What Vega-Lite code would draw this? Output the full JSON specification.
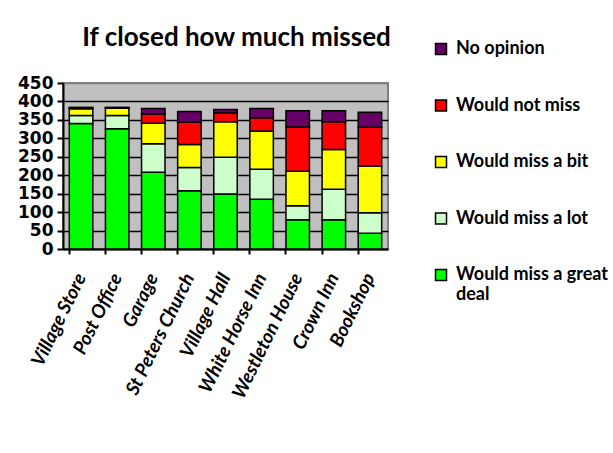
{
  "$schema": "https://vega.github.io/schema/vega-lite/v6.json",
  "width": 325,
  "height": 166,
  "autosize": {"type": "none"},
  "padding": {"left": 63, "top": 83, "right": 225, "bottom": 204},
  "background": "white",
  "title": {
    "text": "If closed how much missed",
    "font": "Lato",
    "fontSize": 26,
    "fontWeight": "bold",
    "color": "black",
    "anchor": "middle",
    "frame": "group",
    "dx": 11,
    "offset": -11
  },
  "data": {
    "values": [
      {"place": "Village Store", "series": "Would miss a great deal", "value": 340},
      {"place": "Village Store", "series": "Would miss a lot", "value": 22},
      {"place": "Village Store", "series": "Would miss a bit", "value": 18},
      {"place": "Village Store", "series": "Would not miss", "value": 2},
      {"place": "Village Store", "series": "No opinion", "value": 2},
      {"place": "Post Office", "series": "Would miss a great deal", "value": 326},
      {"place": "Post Office", "series": "Would miss a lot", "value": 36},
      {"place": "Post Office", "series": "Would miss a bit", "value": 20},
      {"place": "Post Office", "series": "Would not miss", "value": 1},
      {"place": "Post Office", "series": "No opinion", "value": 1},
      {"place": "Garage", "series": "Would miss a great deal", "value": 208},
      {"place": "Garage", "series": "Would miss a lot", "value": 77},
      {"place": "Garage", "series": "Would miss a bit", "value": 56},
      {"place": "Garage", "series": "Would not miss", "value": 25},
      {"place": "Garage", "series": "No opinion", "value": 15},
      {"place": "St Peters Church", "series": "Would miss a great deal", "value": 158},
      {"place": "St Peters Church", "series": "Would miss a lot", "value": 63},
      {"place": "St Peters Church", "series": "Would miss a bit", "value": 62},
      {"place": "St Peters Church", "series": "Would not miss", "value": 61},
      {"place": "St Peters Church", "series": "No opinion", "value": 29},
      {"place": "Village Hall", "series": "Would miss a great deal", "value": 149},
      {"place": "Village Hall", "series": "Would miss a lot", "value": 100},
      {"place": "Village Hall", "series": "Would miss a bit", "value": 96},
      {"place": "Village Hall", "series": "Would not miss", "value": 24},
      {"place": "Village Hall", "series": "No opinion", "value": 9},
      {"place": "White Horse Inn", "series": "Would miss a great deal", "value": 135},
      {"place": "White Horse Inn", "series": "Would miss a lot", "value": 81},
      {"place": "White Horse Inn", "series": "Would miss a bit", "value": 104},
      {"place": "White Horse Inn", "series": "Would not miss", "value": 36},
      {"place": "White Horse Inn", "series": "No opinion", "value": 25},
      {"place": "Westleton House", "series": "Would miss a great deal", "value": 79},
      {"place": "Westleton House", "series": "Would miss a lot", "value": 38},
      {"place": "Westleton House", "series": "Would miss a bit", "value": 94},
      {"place": "Westleton House", "series": "Would not miss", "value": 120},
      {"place": "Westleton House", "series": "No opinion", "value": 44},
      {"place": "Crown Inn", "series": "Would miss a great deal", "value": 79},
      {"place": "Crown Inn", "series": "Would miss a lot", "value": 83},
      {"place": "Crown Inn", "series": "Would miss a bit", "value": 108},
      {"place": "Crown Inn", "series": "Would not miss", "value": 75},
      {"place": "Crown Inn", "series": "No opinion", "value": 30},
      {"place": "Bookshop", "series": "Would miss a great deal", "value": 43},
      {"place": "Bookshop", "series": "Would miss a lot", "value": 55},
      {"place": "Bookshop", "series": "Would miss a bit", "value": 127},
      {"place": "Bookshop", "series": "Would not miss", "value": 105},
      {"place": "Bookshop", "series": "No opinion", "value": 41}
    ]
  },
  "transform": [
    {"calculate": "indexof(['Would miss a great deal','Would miss a lot','Would miss a bit','Would not miss','No opinion'], datum.series)", "as": "stackorder"}
  ],
  "mark": {"type": "bar", "stroke": "black", "strokeWidth": 1.5},
  "encoding": {
    "x": {
      "field": "place",
      "type": "nominal",
      "sort": null,
      "scale": {"paddingInner": 0.35, "paddingOuter": 0.175},
      "axis": {
        "title": null,
        "bandPosition": 0,
        "labelAngle": -64,
        "labelAlign": "right",
        "labelBaseline": "middle",
        "labelFont": "Lato",
        "labelFontSize": 19,
        "labelFontWeight": "bold",
        "labelFontStyle": "italic",
        "labelColor": "black",
        "labelPadding": 20,
        "tickColor": "black",
        "tickSize": 5,
        "tickWidth": 2,
        "domainColor": "black",
        "domainWidth": 2,
        "grid": false
      }
    },
    "y": {
      "field": "value",
      "type": "quantitative",
      "stack": "zero",
      "scale": {"domain": [0, 450], "nice": false},
      "axis": {
        "title": null,
        "values": [0, 50, 100, 150, 200, 250, 300, 350, 400, 450],
        "labelFont": "DejaVu Sans",
        "labelFontSize": 17,
        "labelFontWeight": "bold",
        "labelColor": "black",
        "labelPadding": 4,
        "tickColor": "black",
        "tickSize": 6,
        "tickWidth": 2,
        "domainColor": "black",
        "domainWidth": 2,
        "grid": true,
        "gridColor": {"condition": {"test": "datum.value == 450", "value": "#808080"}, "value": "black"},
        "gridWidth": 1.5,
        "gridOpacity": 1
      }
    },
    "color": {
      "field": "series",
      "type": "nominal",
      "scale": {
        "domain": ["No opinion", "Would not miss", "Would miss a bit", "Would miss a lot", "Would miss a great deal"],
        "range": ["#660066", "#FF0000", "#FFFF00", "#CCFFCC", "#00FF00"]
      },
      "legend": {
        "title": null,
        "orient": "none",
        "legendX": 369,
        "legendY": -43,
        "padding": 0,
        "symbolType": "square",
        "symbolSize": 121,
        "symbolStrokeColor": "black",
        "symbolStrokeWidth": 1.5,
        "symbolOpacity": 1,
        "labelFont": "Lato",
        "labelFontSize": 18,
        "labelFontWeight": "bold",
        "labelColor": "black",
        "labelLimit": 300,
        "labelOffset": 6,
        "rowPadding": 38.5,
        "labelExpr": "datum.label == 'Would miss a great deal' ? ['Would miss a great', 'deal'] : datum.label"
      }
    },
    "order": {"field": "stackorder", "type": "quantitative", "sort": "ascending"}
  },
  "config": {
    "view": {"fill": "#C0C0C0", "stroke": "#808080", "strokeWidth": 2}
  }
}
